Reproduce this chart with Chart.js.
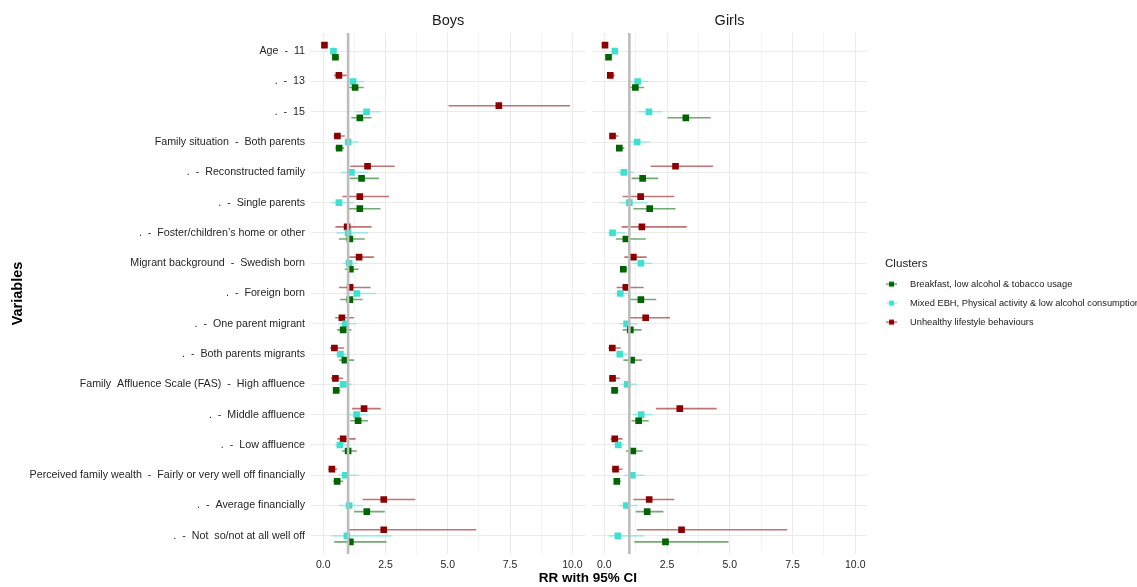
<!DOCTYPE html>
<html><head><meta charset="utf-8">
<script src="https://cdn.jsdelivr.net/npm/chart.js@4.4.1/dist/chart.umd.min.js"></script>
<style>
html,body{margin:0;padding:0;background:#fff;overflow:hidden;width:1137px;height:587px}
#wrap{position:relative;width:1137px;height:587px;overflow:hidden}
canvas{position:absolute;top:0}
#cb{left:0;width:590px;height:587px}
#cg{left:587px;width:550px;height:587px}
#xt{position:absolute;left:488px;width:200px;top:570px;line-height:16px;text-align:center;font:bold 13.5px "Liberation Sans",Arial,sans-serif;color:#000}
</style></head>
<body><div id="wrap"><canvas id="cb" width="590" height="587"></canvas><canvas id="cg" width="550" height="587"></canvas><div id="xt">RR with 95% CI</div></div>
<script>
const variables = [
  "Age  -  11", ".  -  13", ".  -  15",
  "Family situation  -  Both parents", ".  -  Reconstructed family", ".  -  Single parents", ".  -  Foster/children\u2019s home or other",
  "Migrant background  -  Swedish born", ".  -  Foreign born", ".  -  One parent migrant", ".  -  Both parents migrants",
  "Family  Affluence Scale (FAS)  -  High affluence", ".  -  Middle affluence", ".  -  Low affluence",
  "Perceived family wealth  -  Fairly or very well off financially", ".  -  Average financially", ".  -  Not  so/not at all well off"
];
const clusters = ["Breakfast, low alcohol & tobacco usage", "Mixed EBH, Physical activity & low alcohol consumption", "Unhealthy lifestyle behaviours"];
const panels = ["Boys", "Girls"];
const xTickValues = [0, 2.5, 5, 7.5, 10];
const xTickLabels = ["0.0", "2.5", "5.0", "7.5", "10.0"];
const refValue = 1;

// Boys
const boysBreakfastRR = [0.49,1.28,1.47,0.64,1.54,1.47,1.07,1.09,1.07,0.80,0.87,0.52,1.40,1.00,0.56,1.75,1.09];
const boysBreakfastLo = [0.37,1.00,1.13,0.49,1.07,0.97,0.63,0.87,0.68,0.56,0.64,0.40,1.09,0.75,0.40,1.24,0.44];
const boysBreakfastHi = [0.64,1.63,1.94,0.84,2.24,2.30,1.67,1.42,1.58,1.13,1.24,0.69,1.80,1.35,0.80,2.47,2.54];
const boysMixedRR = [0.41,1.20,1.74,1.00,1.13,0.63,1.00,1.04,1.35,0.88,0.69,0.81,1.34,0.67,0.89,1.04,0.95];
const boysMixedLo = [0.31,1.04,1.27,0.87,0.71,0.33,0.53,0.80,0.87,0.60,0.49,0.60,0.93,0.47,0.63,0.64,0.33];
const boysMixedHi = [0.57,1.63,2.31,1.43,1.80,1.23,1.80,1.40,2.12,1.35,1.07,1.17,1.80,1.00,1.43,1.60,2.74];
const boysUnhealthyRR = [0.05,0.63,7.05,0.57,1.78,1.47,0.96,1.44,1.08,0.75,0.45,0.49,1.64,0.80,0.35,2.43,2.43];
const boysUnhealthyLo = [0.02,0.43,5.03,0.41,1.09,0.77,0.49,1.04,0.63,0.48,0.27,0.31,1.16,0.56,0.20,1.58,0.97];
const boysUnhealthyHi = [0.09,0.95,9.91,0.87,2.87,2.64,1.94,2.04,1.90,1.23,0.84,0.80,2.31,1.30,0.56,3.70,6.14];

// Girls
const girlsBreakfastRR = [0.17,1.24,3.25,0.60,1.53,1.81,0.86,0.76,1.46,1.04,1.09,0.41,1.37,1.14,0.50,1.71,2.44];
const girlsBreakfastLo = [0.09,0.98,2.52,0.46,1.09,1.16,0.46,0.62,1.02,0.73,0.76,0.31,1.09,0.86,0.39,1.25,1.20];
const girlsBreakfastHi = [0.27,1.59,4.24,0.80,2.15,2.84,1.65,0.92,2.07,1.49,1.50,0.58,1.77,1.53,0.66,2.36,4.95];
const girlsMixedRR = [0.42,1.33,1.78,1.31,0.78,1.00,0.33,1.46,0.64,0.89,0.62,0.92,1.47,0.56,1.12,0.88,0.54];
const girlsMixedLo = [0.33,1.02,1.35,1.02,0.52,0.60,0.16,1.13,0.42,0.60,0.46,0.66,1.13,0.39,0.80,0.60,0.17];
const girlsMixedHi = [0.56,1.75,2.32,1.82,1.18,1.73,0.85,1.91,1.05,1.35,0.92,1.29,1.93,0.78,1.59,1.33,1.59];
const girlsUnhealthyRR = [0.03,0.24,null,0.33,2.84,1.45,1.50,1.16,0.86,1.65,0.32,0.33,3.01,0.42,0.45,1.79,3.08];
const girlsUnhealthyLo = [0.01,0.15,null,0.23,1.85,0.73,0.69,0.80,0.49,1.02,0.16,0.20,2.06,0.25,0.29,1.16,1.30];
const girlsUnhealthyHi = [0.08,0.42,null,0.56,4.34,2.79,3.29,1.69,1.57,2.62,0.66,0.62,4.48,0.73,0.73,2.79,7.29];

const boysSeries = [
  {rr: boysBreakfastRR, lo: boysBreakfastLo, hi: boysBreakfastHi},
  {rr: boysMixedRR, lo: boysMixedLo, hi: boysMixedHi},
  {rr: boysUnhealthyRR, lo: boysUnhealthyLo, hi: boysUnhealthyHi}
];
const girlsSeries = [
  {rr: girlsBreakfastRR, lo: girlsBreakfastLo, hi: girlsBreakfastHi},
  {rr: girlsMixedRR, lo: girlsMixedLo, hi: girlsMixedHi},
  {rr: girlsUnhealthyRR, lo: girlsUnhealthyLo, hi: girlsUnhealthyHi}
];

// ---- styling ----
const F = '"Liberation Sans", Arial, sans-serif';
Chart.defaults.font.family = F;
const clusterStyle = [
  {point: '#006400', line: 'rgba(0,100,0,0.55)', dodge: 0.2},
  {point: '#40E0D0', line: 'rgba(64,224,208,0.45)', dodge: 0},
  {point: '#8B0000', line: 'rgba(139,0,0,0.55)', dodge: -0.2}
];
const yMin = -0.6, yMax = variables.length - 0.4;
const axisTextColor = '#262626';

function makeIcon(st) {
  const c = document.createElement('canvas');
  c.width = 28; c.height = 8;
  const g = c.getContext('2d');
  g.strokeStyle = st.line; g.lineWidth = 1.6;
  g.beginPath(); g.moveTo(0, 4); g.lineTo(11, 4); g.stroke();
  g.fillStyle = st.point; g.fillRect(3, 1.5, 5, 5);
  return c;
}

function buildDatasets(series) {
  const ds = [];
  series.forEach((s, k) => {
    const st = clusterStyle[k];
    const ci = [];
    variables.forEach((v, i) => {
      if (s.rr[i] == null) return;
      ci.push({x: s.lo[i], y: i + st.dodge}, {x: s.hi[i], y: i + st.dodge}, {x: null, y: null});
    });
    ds.push({type: 'scatter', label: clusters[k] + ' CI', data: ci, showLine: true, spanGaps: false,
      borderColor: st.line, borderWidth: 1.6, pointRadius: 0, order: 3});
  });
  series.forEach((s, k) => {
    const st = clusterStyle[k];
    const pts = [];
    variables.forEach((v, i) => { if (s.rr[i] != null) pts.push({x: s.rr[i], y: i + st.dodge}); });
    ds.push({type: 'scatter', label: clusters[k], data: pts, pointStyle: 'rect', pointRadius: 4.7,
      pointBackgroundColor: st.point, backgroundColor: st.point, borderColor: st.point, pointBorderWidth: 0,
      order: 2, legendIcon: makeIcon(st)});
  });
  ds.push({type: 'scatter', label: 'ref', data: [{x: refValue, y: yMin}, {x: refValue, y: yMax}], showLine: true,
    borderColor: '#bdbdbd', borderWidth: 2.6, pointRadius: 0, order: 0});
  return ds;
}

function xScale(min, max) {
  return {
    type: 'linear', min, max,
    afterBuildTicks: s => {
      const t = [];
      xTickValues.forEach((v, i) => { t.push({value: v}); if (i < xTickValues.length - 1) t.push({value: (v + xTickValues[i + 1]) / 2}); });
      s.ticks = t;
    },
    ticks: {autoSkip: false, maxRotation: 0, font: {family: F, size: 10.5}, color: axisTextColor, padding: 5,
      callback: v => { const i = xTickValues.indexOf(v); return i >= 0 ? xTickLabels[i] : ''; }},
    grid: {color: c => (c.tick && xTickValues.includes(c.tick.value)) ? '#ebebeb' : '#f3f3f3', lineWidth: 1, drawTicks: false},
    border: {display: false},
    afterFit: s => { s.height = 33; }
  };
}

function yBase() {
  return {
    type: 'linear', reverse: true, min: yMin, max: yMax,
    afterBuildTicks: s => { s.ticks = variables.map((v, i) => ({value: i})); },
    grid: {color: '#ebebeb', lineWidth: 1, drawTicks: false},
    border: {display: false}
  };
}

const facetTitle = txt => ({display: true, text: txt, fullSize: false, color: '#1a1a1a',
  font: {family: F, size: 14.5, weight: 'normal', lineHeight: 1.2}, padding: {top: 12, bottom: 3.6}});

const common = {responsive: false, animation: false, devicePixelRatio: 1, events: []};

// Boys panel (with variable labels)
const yBoys = yBase();
Object.assign(yBoys, {
  ticks: {autoSkip: false, font: {family: F, size: 10.7}, color: axisTextColor, padding: 6, callback: v => variables[v]},
  title: {display: true, text: 'Variables', color: '#000', font: {family: F, size: 14.5, weight: 'bold'}, padding: {top: 9.3, bottom: 0}},
  afterFit: s => { s.width = 311; }
});
new Chart(document.getElementById('cb'), {
  type: 'scatter',
  data: {datasets: buildDatasets(boysSeries)},
  options: Object.assign({}, common, {
    layout: {padding: {left: 0, right: 4, top: 0, bottom: 0}},
    plugins: {legend: {display: false}, tooltip: {enabled: false}, title: facetTitle(panels[0])},
    scales: {x: xScale(-0.49, 10.52), y: yBoys}
  })
});

// Girls panel (with legend)
const yGirls = yBase();
Object.assign(yGirls, {ticks: {display: false}, afterFit: s => { s.width = 4.7; }});
new Chart(document.getElementById('cg'), {
  type: 'scatter',
  data: {datasets: buildDatasets(girlsSeries)},
  options: Object.assign({}, common, {
    layout: {padding: 0},
    plugins: {
      tooltip: {enabled: false},
      title: facetTitle(panels[1]),
      legend: {
        display: true, position: 'right', align: 'start', maxWidth: 252,
        title: {display: true, text: 'Clusters', position: 'start', color: '#1a1a1a',
          font: {family: F, size: 11.6, lineHeight: 1}, padding: {top: 258.2, bottom: 0}},
        labels: {
          usePointStyle: true, pointStyleWidth: 10.7, padding: 9.7, color: '#1a1a1a',
          font: {family: F, size: 9.3},
          generateLabels: chart => chart.data.datasets.map((d, i) => d.legendIcon ? {
            text: d.label, pointStyle: d.legendIcon, datasetIndex: i, hidden: false,
            fillStyle: d.backgroundColor, strokeStyle: d.backgroundColor, lineWidth: 0, fontColor: '#1a1a1a'
          } : null).filter(Boolean)
        }
      }
    },
    scales: {
      x: xScale(-0.5, 10.48),
      y: yGirls,
      yPad: {type: 'linear', position: 'right', display: true, grid: {display: false}, ticks: {display: false},
        border: {display: false}, afterFit: s => { s.width = 17.7; }}
    }
  })
});
</script></body></html>
